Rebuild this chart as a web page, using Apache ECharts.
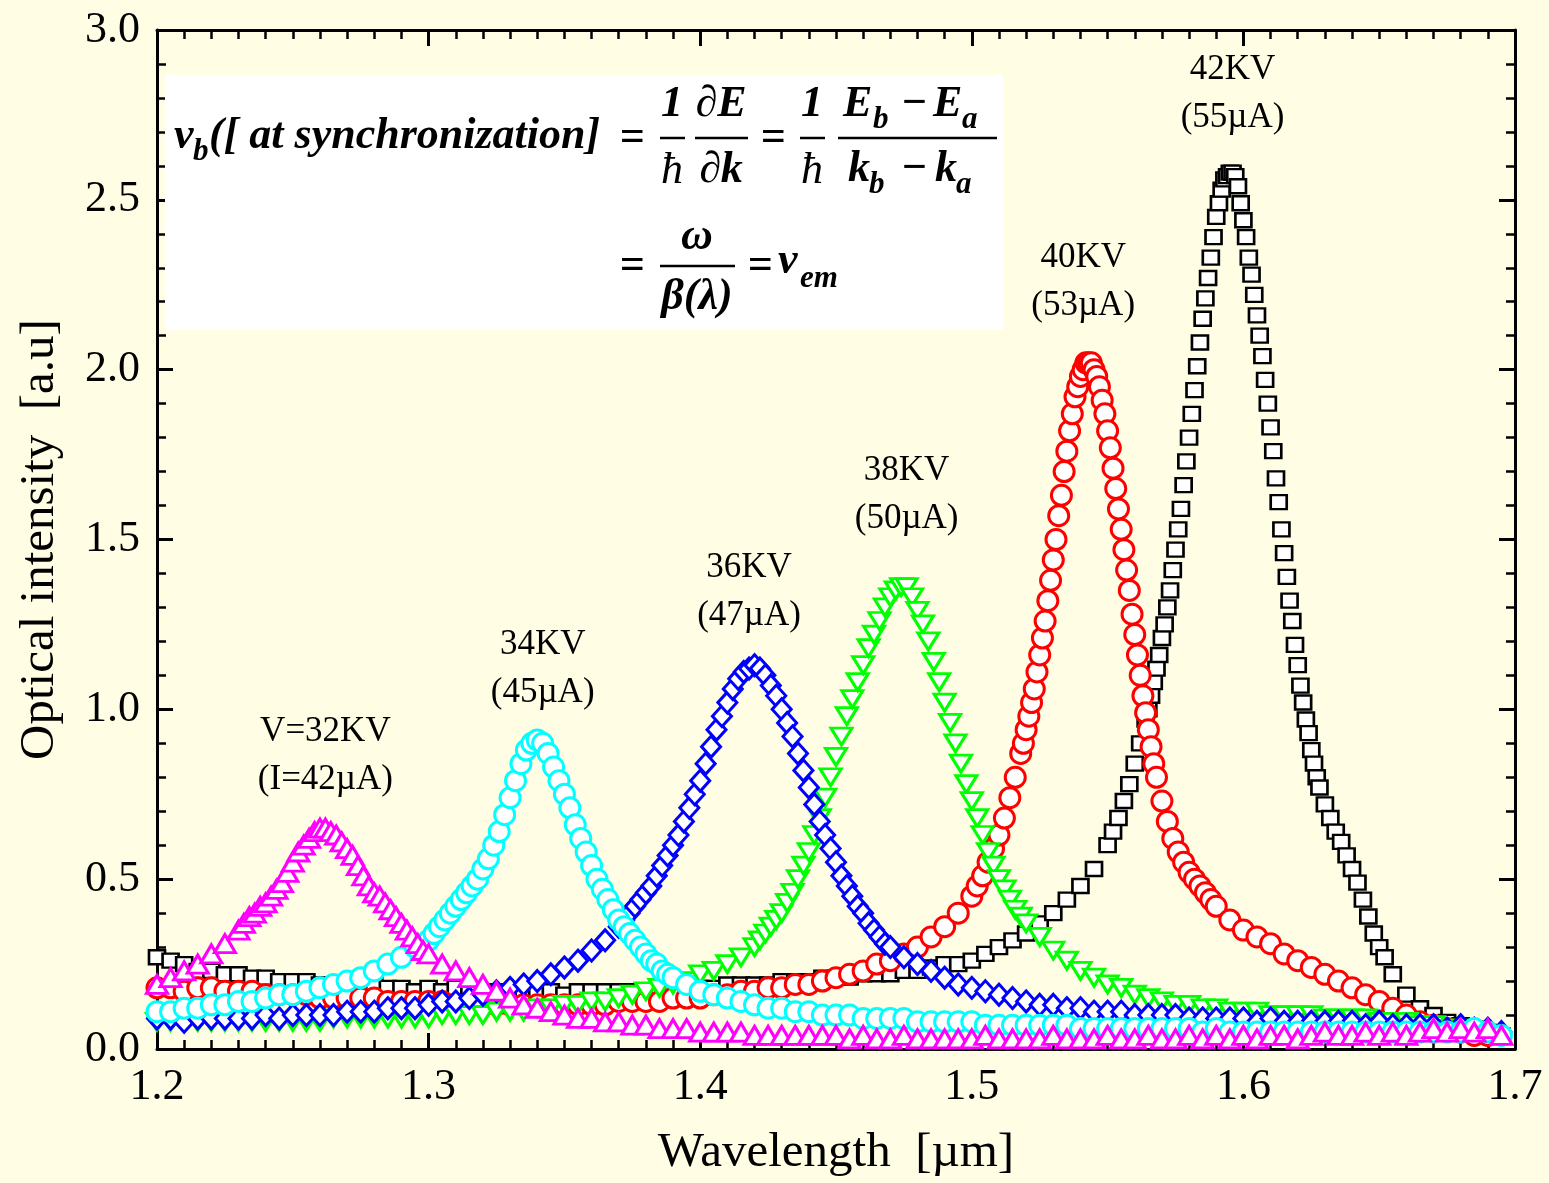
<!DOCTYPE html>
<html><head><meta charset="utf-8">
<script src="https://cdn.jsdelivr.net/npm/echarts@6/dist/echarts.min.js"></script>
<style>html,body{margin:0;padding:0;background:#FFFDE4}#c{width:1549px;height:1183px}</style>
</head><body><div id="c"></div><script>
// ---------------- DATA (wavelength µm, optical intensity a.u.) ----------------
const xTicks = [1.2, 1.3, 1.4, 1.5, 1.6, 1.7];
const yTicks = [0.0, 0.5, 1.0, 1.5, 2.0, 2.5, 3.0];

// 42KV (55µA) — black squares
const s42 = [
[1.200,0.27],[1.205,0.26],[1.210,0.25],[1.215,0.23],[1.220,0.23],[1.225,0.22],[1.230,0.22],[1.235,0.21],[1.240,0.21],[1.245,0.20],
[1.250,0.20],[1.255,0.20],[1.260,0.19],[1.265,0.19],[1.270,0.19],[1.275,0.18],[1.280,0.19],[1.285,0.18],[1.290,0.18],[1.295,0.17],
[1.300,0.18],[1.305,0.17],[1.310,0.18],[1.315,0.17],[1.320,0.17],[1.325,0.17],[1.330,0.17],[1.335,0.16],[1.340,0.17],[1.345,0.17],
[1.350,0.16],[1.355,0.17],[1.360,0.17],[1.365,0.17],[1.370,0.17],[1.375,0.17],[1.380,0.17],[1.385,0.18],[1.390,0.18],[1.395,0.18],
[1.400,0.18],[1.405,0.18],[1.410,0.19],[1.415,0.19],[1.420,0.19],[1.425,0.19],[1.430,0.20],[1.435,0.20],[1.440,0.20],[1.445,0.21],
[1.450,0.21],[1.455,0.21],[1.460,0.22],[1.465,0.22],[1.470,0.22],[1.475,0.23],[1.480,0.23],[1.485,0.24],[1.490,0.25],[1.495,0.25],
[1.500,0.26],[1.505,0.28],[1.510,0.30],[1.515,0.32],[1.520,0.34],[1.525,0.37],[1.530,0.40],[1.535,0.44],[1.540,0.48],[1.545,0.53],
[1.550,0.60],[1.552,0.64],[1.554,0.68],[1.556,0.73],[1.558,0.78],[1.560,0.84],[1.562,0.90],[1.564,0.97],
[1.565,1.00],[1.566,1.04],[1.567,1.08],[1.568,1.12],[1.569,1.16],[1.570,1.21],[1.571,1.25],[1.572,1.30],[1.573,1.35],[1.574,1.41],
[1.575,1.47],[1.576,1.53],[1.577,1.59],[1.578,1.66],[1.579,1.73],[1.580,1.80],[1.581,1.87],[1.582,1.94],[1.583,2.01],[1.584,2.08],
[1.585,2.15],[1.586,2.21],[1.587,2.27],[1.588,2.33],[1.589,2.39],[1.590,2.45],[1.591,2.49],[1.592,2.53],[1.593,2.56],[1.594,2.57],
[1.595,2.58],[1.596,2.58],[1.597,2.57],[1.598,2.54],[1.599,2.49],[1.600,2.44],[1.601,2.39],[1.602,2.33],[1.603,2.28],[1.604,2.22],
[1.605,2.16],[1.606,2.10],[1.607,2.04],[1.608,1.97],[1.609,1.90],[1.610,1.83],[1.611,1.76],[1.612,1.68],[1.613,1.61],[1.614,1.53],
[1.615,1.46],[1.616,1.39],[1.617,1.32],[1.618,1.26],[1.619,1.19],[1.620,1.13],[1.621,1.07],[1.622,1.02],[1.623,0.97],[1.624,0.93],
[1.625,0.88],[1.626,0.84],[1.627,0.80],[1.628,0.77],
[1.630,0.72],[1.632,0.68],[1.634,0.64],[1.636,0.61],[1.638,0.57],[1.640,0.53],[1.642,0.49],[1.644,0.44],[1.646,0.39],[1.648,0.34],
[1.650,0.30],[1.652,0.27],[1.655,0.22],[1.660,0.16],[1.665,0.12],[1.670,0.10],[1.675,0.08],[1.680,0.07],[1.685,0.06],[1.690,0.05],[1.695,0.04]
];

// 40KV (53µA) — red circles
const s40 = [
[1.200,0.18],[1.205,0.18],[1.210,0.17],[1.215,0.18],[1.220,0.18],[1.225,0.17],[1.230,0.17],[1.235,0.17],[1.240,0.16],[1.245,0.16],
[1.250,0.16],[1.255,0.16],[1.260,0.15],[1.265,0.15],[1.270,0.15],[1.275,0.15],[1.280,0.15],[1.285,0.14],[1.290,0.14],[1.295,0.14],
[1.300,0.14],[1.305,0.14],[1.310,0.13],[1.315,0.13],[1.320,0.13],[1.325,0.13],[1.330,0.13],[1.335,0.13],[1.340,0.13],[1.345,0.13],
[1.350,0.13],[1.355,0.13],[1.360,0.13],[1.365,0.13],[1.370,0.14],[1.375,0.14],[1.380,0.14],[1.385,0.14],[1.390,0.15],[1.395,0.15],
[1.400,0.15],[1.405,0.16],[1.410,0.16],[1.415,0.17],[1.420,0.17],[1.425,0.18],[1.430,0.18],[1.435,0.19],[1.440,0.19],[1.445,0.20],
[1.450,0.21],[1.455,0.22],[1.460,0.23],[1.465,0.25],[1.470,0.26],[1.475,0.28],[1.480,0.30],[1.485,0.33],[1.490,0.36],[1.495,0.40],
[1.500,0.45],[1.502,0.48],[1.504,0.51],[1.506,0.55],[1.508,0.59],[1.510,0.63],[1.512,0.68],[1.514,0.74],[1.516,0.80],
[1.518,0.87],[1.519,0.90],[1.520,0.94],[1.521,0.98],[1.522,1.02],[1.523,1.06],[1.524,1.11],[1.525,1.16],[1.526,1.21],[1.527,1.26],
[1.528,1.32],[1.529,1.38],[1.530,1.44],[1.531,1.50],[1.532,1.57],[1.533,1.63],[1.534,1.70],[1.535,1.76],[1.536,1.82],[1.537,1.87],
[1.538,1.92],[1.539,1.95],[1.540,1.98],[1.541,2.00],[1.542,2.02],[1.543,2.02],[1.544,2.02],[1.545,2.00],[1.546,1.98],[1.547,1.95],
[1.548,1.91],[1.549,1.87],[1.550,1.82],[1.551,1.77],[1.552,1.71],[1.553,1.65],[1.554,1.59],[1.555,1.53],[1.556,1.47],[1.557,1.41],
[1.558,1.35],[1.559,1.28],[1.560,1.22],[1.561,1.16],[1.562,1.10],[1.563,1.04],[1.564,0.99],[1.565,0.94],[1.566,0.89],[1.567,0.84],
[1.568,0.80],[1.570,0.73],[1.572,0.67],[1.574,0.62],[1.576,0.58],[1.578,0.55],
[1.580,0.52],[1.582,0.50],[1.584,0.48],[1.586,0.46],[1.588,0.44],[1.590,0.42],[1.595,0.38],[1.600,0.35],[1.605,0.33],[1.610,0.31],
[1.615,0.28],[1.620,0.26],[1.625,0.24],[1.630,0.22],[1.635,0.20],[1.640,0.18],[1.645,0.16],[1.650,0.14],[1.655,0.12],[1.660,0.10],
[1.665,0.08],[1.670,0.07],[1.675,0.06],[1.680,0.05],[1.685,0.04],[1.690,0.04]
];

// 38KV (50µA) — green down-triangles
const s38 = [
[1.200,0.08],[1.205,0.08],[1.210,0.08],[1.215,0.08],[1.220,0.08],[1.225,0.08],[1.230,0.08],[1.235,0.08],[1.240,0.08],[1.245,0.08],
[1.250,0.08],[1.255,0.08],[1.260,0.08],[1.265,0.09],[1.270,0.09],[1.275,0.09],[1.280,0.09],[1.285,0.09],[1.290,0.09],[1.295,0.09],
[1.300,0.09],[1.305,0.10],[1.310,0.10],[1.315,0.10],[1.320,0.10],[1.325,0.11],[1.330,0.11],[1.335,0.11],[1.340,0.12],[1.345,0.12],
[1.350,0.13],[1.355,0.13],[1.360,0.14],[1.365,0.14],[1.370,0.15],[1.375,0.16],[1.380,0.17],[1.385,0.18],[1.390,0.19],[1.395,0.20],
[1.400,0.22],[1.405,0.23],[1.410,0.25],[1.415,0.27],
[1.420,0.30],[1.422,0.32],[1.424,0.34],[1.426,0.36],[1.428,0.38],[1.430,0.40],[1.432,0.43],[1.434,0.46],[1.436,0.50],[1.438,0.54],
[1.440,0.58],[1.442,0.63],[1.444,0.68],[1.446,0.74],[1.448,0.80],[1.450,0.86],[1.452,0.92],[1.454,0.98],[1.456,1.03],[1.458,1.08],
[1.460,1.13],[1.462,1.18],[1.464,1.22],[1.466,1.26],[1.468,1.30],[1.470,1.33],[1.472,1.35],[1.474,1.36],[1.476,1.36],[1.478,1.33],
[1.480,1.29],[1.482,1.25],[1.484,1.20],[1.486,1.14],[1.488,1.08],[1.490,1.02],[1.492,0.96],[1.494,0.90],[1.496,0.84],[1.498,0.78],
[1.500,0.73],[1.502,0.68],[1.504,0.63],[1.506,0.58],[1.508,0.54],[1.510,0.50],[1.512,0.47],[1.514,0.44],[1.516,0.41],[1.518,0.39],
[1.520,0.37],[1.525,0.33],[1.530,0.29],[1.535,0.26],[1.540,0.23],[1.545,0.21],[1.550,0.19],[1.555,0.18],[1.560,0.16],[1.565,0.15],
[1.570,0.14],[1.575,0.13],[1.580,0.13],[1.585,0.12],[1.590,0.12],[1.595,0.11],[1.600,0.11],[1.605,0.11],[1.610,0.10],[1.615,0.10],
[1.620,0.10],[1.625,0.10],[1.630,0.09],[1.635,0.09],[1.640,0.09],[1.645,0.09],[1.650,0.08],[1.655,0.08],[1.660,0.08],[1.665,0.07],
[1.670,0.07],[1.675,0.06],[1.680,0.06]
];

// 36KV (47µA) — blue diamonds
const s36 = [
[1.200,0.09],[1.205,0.09],[1.210,0.08],[1.215,0.09],[1.220,0.09],[1.225,0.09],[1.230,0.09],[1.235,0.09],[1.240,0.10],[1.245,0.09],
[1.250,0.10],[1.255,0.10],[1.260,0.10],[1.265,0.10],[1.270,0.11],[1.275,0.11],[1.280,0.11],[1.285,0.12],[1.290,0.12],[1.295,0.12],
[1.300,0.13],[1.305,0.14],[1.310,0.14],[1.315,0.15],[1.320,0.16],[1.325,0.17],[1.330,0.18],[1.335,0.19],[1.340,0.20],[1.345,0.22],
[1.350,0.24],[1.355,0.26],[1.360,0.29],[1.365,0.32],
[1.370,0.36],[1.372,0.38],[1.374,0.40],[1.376,0.42],[1.378,0.44],[1.380,0.46],[1.382,0.48],[1.384,0.51],[1.386,0.54],[1.388,0.57],
[1.390,0.60],[1.392,0.63],[1.394,0.67],[1.396,0.71],[1.398,0.75],[1.400,0.79],[1.402,0.84],[1.404,0.89],[1.406,0.94],[1.408,0.98],
[1.410,1.02],[1.412,1.06],[1.414,1.09],[1.416,1.11],[1.418,1.12],[1.420,1.13],[1.422,1.12],[1.424,1.10],[1.426,1.07],[1.428,1.04],
[1.430,1.00],[1.432,0.96],[1.434,0.92],[1.436,0.87],[1.438,0.82],[1.440,0.77],[1.442,0.72],[1.444,0.67],[1.446,0.63],[1.448,0.59],
[1.450,0.55],[1.452,0.51],[1.454,0.48],[1.456,0.45],[1.458,0.42],[1.460,0.40],[1.462,0.37],[1.464,0.35],[1.466,0.33],[1.468,0.31],
[1.470,0.30],[1.475,0.27],[1.480,0.25],[1.485,0.23],[1.490,0.21],[1.495,0.19],[1.500,0.18],[1.505,0.17],[1.510,0.16],[1.515,0.15],
[1.520,0.14],[1.525,0.13],[1.530,0.13],[1.535,0.12],[1.540,0.12],[1.545,0.11],[1.550,0.11],[1.555,0.11],[1.560,0.10],[1.565,0.10],
[1.570,0.10],[1.575,0.10],[1.580,0.09],[1.585,0.09],[1.590,0.09],[1.595,0.09],[1.600,0.09],[1.605,0.08],[1.610,0.09],[1.615,0.08],
[1.620,0.08],[1.625,0.08],[1.630,0.08],[1.635,0.08],[1.640,0.08],[1.645,0.07],[1.650,0.08],[1.655,0.07],[1.660,0.07],[1.665,0.07],
[1.670,0.07],[1.675,0.06],[1.680,0.07],[1.685,0.06],[1.690,0.06],[1.695,0.05]
];

// 34KV (45µA) — cyan circles
const s34 = [
[1.200,0.11],[1.205,0.11],[1.210,0.12],[1.215,0.12],[1.220,0.13],[1.225,0.13],[1.230,0.14],[1.235,0.14],[1.240,0.15],[1.245,0.16],
[1.250,0.16],[1.255,0.17],[1.260,0.18],[1.265,0.19],[1.270,0.20],[1.275,0.21],[1.280,0.23],[1.285,0.25],[1.290,0.27],[1.295,0.30],
[1.300,0.32],[1.302,0.34],[1.304,0.36],[1.306,0.38],[1.308,0.40],[1.310,0.42],[1.312,0.44],[1.314,0.46],[1.316,0.48],[1.318,0.50],
[1.320,0.53],[1.322,0.56],[1.324,0.60],[1.326,0.64],[1.328,0.69],[1.330,0.74],[1.332,0.79],[1.334,0.84],[1.336,0.88],[1.338,0.90],
[1.340,0.91],[1.342,0.90],[1.344,0.87],[1.346,0.83],[1.348,0.79],[1.350,0.75],[1.352,0.71],[1.354,0.66],[1.356,0.62],[1.358,0.58],
[1.360,0.54],[1.362,0.50],[1.364,0.47],[1.366,0.44],[1.368,0.41],[1.370,0.38],[1.372,0.36],[1.374,0.34],[1.376,0.32],[1.378,0.30],
[1.380,0.28],[1.382,0.26],[1.384,0.25],[1.386,0.23],[1.388,0.22],[1.390,0.21],[1.395,0.19],[1.400,0.17],[1.405,0.16],[1.410,0.15],
[1.415,0.14],[1.420,0.13],[1.425,0.12],[1.430,0.12],[1.435,0.11],[1.440,0.11],[1.445,0.10],[1.450,0.10],[1.455,0.10],[1.460,0.09],
[1.465,0.09],[1.470,0.09],[1.475,0.09],[1.480,0.08],[1.485,0.08],[1.490,0.08],[1.495,0.08],[1.500,0.08],[1.505,0.07],[1.510,0.07],
[1.515,0.07],[1.520,0.07],[1.525,0.07],[1.530,0.07],[1.535,0.07],[1.540,0.06],[1.545,0.06],[1.550,0.06],[1.555,0.06],[1.560,0.06],
[1.565,0.06],[1.570,0.06],[1.575,0.06],[1.580,0.06],[1.585,0.05],[1.590,0.06],[1.595,0.05],[1.600,0.05],[1.605,0.05],[1.610,0.05],
[1.615,0.05],[1.620,0.05],[1.625,0.05],[1.630,0.05],[1.635,0.05],[1.640,0.05],[1.645,0.05],[1.650,0.05],[1.655,0.05],[1.660,0.05],
[1.665,0.05],[1.670,0.05],[1.675,0.05],[1.680,0.05],[1.685,0.06],[1.690,0.05],[1.695,0.04]
];

// 32KV (42µA) — magenta up-triangles
const s32 = [
[1.200,0.19],[1.205,0.21],[1.210,0.23],[1.215,0.25],[1.220,0.28],[1.225,0.31],
[1.230,0.35],[1.232,0.37],[1.234,0.39],[1.236,0.40],[1.238,0.42],[1.240,0.43],[1.242,0.45],[1.244,0.47],[1.246,0.49],[1.248,0.52],
[1.250,0.55],[1.252,0.58],[1.254,0.60],[1.256,0.62],[1.258,0.64],[1.260,0.65],[1.262,0.65],[1.264,0.64],[1.266,0.63],[1.268,0.61],
[1.270,0.59],[1.272,0.57],[1.274,0.54],[1.276,0.51],[1.278,0.48],[1.280,0.46],[1.282,0.45],[1.284,0.43],[1.286,0.41],[1.288,0.39],
[1.290,0.37],[1.292,0.35],[1.294,0.33],[1.296,0.31],[1.298,0.29],[1.300,0.28],[1.305,0.25],[1.310,0.23],[1.315,0.21],[1.320,0.19],
[1.325,0.17],[1.330,0.15],[1.335,0.13],[1.340,0.12],[1.345,0.11],[1.350,0.10],[1.355,0.09],[1.360,0.09],[1.365,0.08],[1.370,0.08],
[1.375,0.07],[1.380,0.07],[1.385,0.06],[1.390,0.06],[1.395,0.06],[1.400,0.05],[1.405,0.05],[1.410,0.05],[1.415,0.05],[1.420,0.04],
[1.425,0.04],[1.430,0.04],[1.435,0.04],[1.440,0.04],[1.445,0.04],[1.450,0.04],[1.455,0.03],[1.460,0.04],[1.465,0.03],[1.470,0.03],
[1.475,0.04],[1.480,0.03],[1.485,0.03],[1.490,0.03],[1.495,0.03],[1.500,0.03],[1.505,0.04],[1.510,0.03],[1.515,0.03],[1.520,0.03],
[1.525,0.03],[1.530,0.04],[1.535,0.03],[1.540,0.03],[1.545,0.03],[1.550,0.04],[1.555,0.03],[1.560,0.03],[1.565,0.04],[1.570,0.03],
[1.575,0.03],[1.580,0.04],[1.585,0.03],[1.590,0.04],[1.595,0.03],[1.600,0.04],[1.605,0.03],[1.610,0.04],[1.615,0.04],[1.620,0.03],
[1.625,0.04],[1.630,0.05],[1.635,0.04],[1.640,0.04],[1.645,0.05],[1.650,0.04],[1.655,0.05],[1.660,0.04],[1.665,0.05],[1.670,0.06],
[1.675,0.05],[1.680,0.06],[1.685,0.05],[1.690,0.06],[1.695,0.04]
];

// Peak annotations: [text, wavelength, intensity] (label centre)
const annotations = [
  ['V=32KV\n(I=42µA)', 1.262, 0.862],
  ['34KV\n(45µA)', 1.342, 1.118],
  ['36KV\n(47µA)', 1.418, 1.347],
  ['38KV\n(50µA)', 1.476, 1.632],
  ['40KV\n(53µA)', 1.541, 2.259],
  ['42KV\n(55µA)', 1.596, 2.812]
];

// ---------------- CHART ----------------
const SERIF = "'Liberation Serif', 'Times New Roman', serif";
const chart = echarts.init(document.getElementById('c'), null, {renderer: 'canvas', width: 1549, height: 1183});

const styles = [
  {name: '42KV', data: s42, symbol: 'rect', size: [16, 14], color: '#000000', bw: 2.5},
  {name: '40KV', data: s40, symbol: 'circle', size: 20, color: '#FF0000', bw: 3},
  {name: '38KV', data: s38, symbol: 'triangle', size: [21, 17], rotate: 180, color: '#00FF00', bw: 3},
  {name: '36KV', data: s36, symbol: 'diamond', size: [19, 21], color: '#0000FF', bw: 3},
  {name: '34KV', data: s34, symbol: 'circle', size: 20, color: '#00FFFF', bw: 3},
  {name: '32KV', data: s32, symbol: 'triangle', size: [21, 18], color: '#FF00FF', bw: 3}
];

const series = styles.map(s => ({
  type: 'scatter', name: s.name, data: s.data,
  symbol: s.symbol, symbolSize: s.size, symbolRotate: s.rotate || 0,
  itemStyle: {color: '#FFFFFF', borderColor: s.color, borderWidth: s.bw, opacity: 1},
  emphasis: {disabled: true}, silent: true, large: false
}));

function axisCommon(showLabels) {
  return {
    axisLine: {show: true, onZero: false, lineStyle: {color: '#000', width: 3}},
    axisTick: {show: true, inside: true, length: 16, lineStyle: {color: '#000', width: 3}},
    splitLine: {show: false},
    axisLabel: {show: showLabels, fontFamily: SERIF, fontSize: 44, color: '#000',
      formatter: v => v.toFixed(1), showMinLabel: true, showMaxLabel: true}
  };
}

const xMin = xTicks[0], xMax = xTicks[xTicks.length - 1];
const yMin = yTicks[0], yMax = yTicks[yTicks.length - 1];

const xBase = (pos, labels) => Object.assign({
  type: 'value', min: xMin, max: xMax, interval: 0.1, position: pos,
  minorTick: {show: true, splitNumber: 10, length: 9, lineStyle: {color: '#000', width: 2.5}}
}, axisCommon(labels));
const yBase = (pos, labels) => Object.assign({
  type: 'value', min: yMin, max: yMax, interval: 0.5, position: pos,
  minorTick: {show: true, splitNumber: 5, length: 9, lineStyle: {color: '#000', width: 2.5}}
}, axisCommon(labels));

const xA = xBase('bottom', true);
xA.axisLabel.margin = 16;
xA.name = 'Wavelength  [µm]';
xA.nameLocation = 'middle';
xA.nameGap = 80;
xA.nameTextStyle = {fontFamily: SERIF, fontSize: 49, color: '#000'};
const xB = xBase('top', false);

const yA = yBase('left', true);
yA.axisLabel.margin = 17;
yA.name = 'Optical intensity  [a.u]';
yA.nameLocation = 'middle';
yA.nameRotate = 90;
yA.nameGap = 92;
yA.nameTextStyle = {fontFamily: SERIF, fontSize: 49, color: '#000'};
const yB = yBase('right', false);

// ---------------- formula box (decoration) ----------------
const BI = sz => `italic bold ${sz}px ${SERIF}`;
const IT = sz => `italic ${sz}px ${SERIF}`;
function t(text, x, y, font, align) {
  return {type: 'text', x: x, y: y, z: 101, silent: true,
    style: {text: text, font: font, fill: '#000', align: align || 'center', verticalAlign: 'middle'}};
}
function bar(x1, x2, y) {
  return {type: 'line', z: 101, silent: true, shape: {x1: x1, y1: y, x2: x2, y2: y}, style: {stroke: '#000', lineWidth: 2.5}};
}
const F = 44, S = 31;
const formula = [
  {type: 'rect', z: 100, silent: true, shape: {x: 165, y: 75, width: 838, height: 255}, style: {fill: '#FFFFFF'}},
  t('v', 174, 137, BI(F), 'left'),
  t('b', 193, 152, BI(S), 'left'),
  t('([ at synchronization]', 209, 137, BI(F), 'left'),
  t('=', 632, 139, BI(F)),
  t('1', 672, 105, BI(F)), bar(660, 685, 138), t('ħ', 672, 171, IT(F)),
  t('∂E', 721, 105, BI(F)), bar(695, 748, 138), t('∂k', 721, 171, BI(F)),
  t('=', 773, 139, BI(F)),
  t('1', 812, 105, BI(F)), bar(800, 825, 138), t('ħ', 812, 171, IT(F)),
  t('E', 843, 105, BI(F), 'left'), t('b', 873, 120, BI(S), 'left'), t('−', 914, 105, BI(F)),
  t('E', 933, 105, BI(F), 'left'), t('a', 962, 120, BI(S), 'left'),
  bar(838, 997, 138),
  t('k', 848, 170, BI(F), 'left'), t('b', 869, 185, BI(S), 'left'), t('−', 914, 170, BI(F)),
  t('k', 935, 170, BI(F), 'left'), t('a', 956, 185, BI(S), 'left'),
  t('=', 632, 267, BI(F)),
  t('ω', 697, 238, BI(F)), bar(660, 735, 266), t('β(λ)', 697, 298, BI(F)),
  t('=', 760, 267, BI(F)),
  t('v', 778, 262, BI(F), 'left'), t('em', 800, 279, BI(S), 'left')
];

chart.setOption({
  animation: false,
  backgroundColor: '#FFFDE4',
  grid: {left: 157, right: 34, top: 30, bottom: 133, containLabel: false},
  xAxis: [xA, xB],
  yAxis: [yA, yB],
  series: series,
  graphic: formula
});

// Peak annotations placed at data coordinates through the chart's own scales
const annoGraphics = annotations.map(a => {
  const p = chart.convertToPixel({xAxisIndex: 0, yAxisIndex: 0}, [a[1], a[2]]);
  return {type: 'text', x: p[0], y: p[1], z: 102, silent: true,
    style: {text: a[0], font: `35px ${SERIF}`, fill: '#000000', align: 'center', verticalAlign: 'middle', lineHeight: 48}};
});
chart.setOption({graphic: formula.concat(annoGraphics)});
</script></body></html>
